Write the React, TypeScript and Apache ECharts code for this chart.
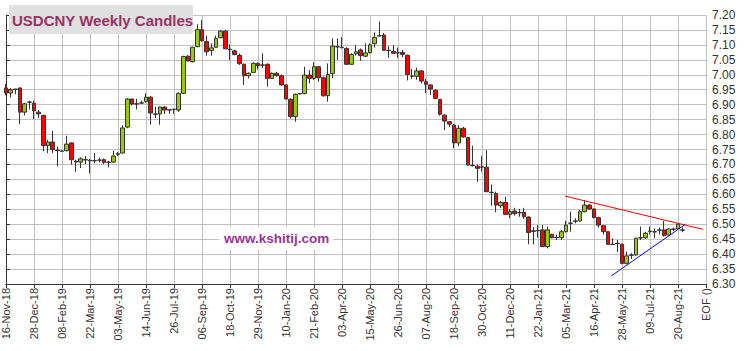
import React, { useEffect, useRef } from 'react';
import * as echarts from 'echarts';

const tickLabels = [
  '16-Nov-18', '28-Dec-18', '08-Feb-19', '22-Mar-19', '03-May-19', '14-Jun-19', '26-Jul-19',
  '06-Sep-19', '18-Oct-19', '29-Nov-19', '10-Jan-20', '21-Feb-20', '03-Apr-20', '15-May-20',
  '26-Jun-20', '07-Aug-20', '18-Sep-20', '30-Oct-20', '11-Dec-20', '22-Jan-21', '05-Mar-21',
  '16-Apr-21', '28-May-21', '09-Jul-21', '20-Aug-21', 'EOF ()',
];

const opens = [
  6.956, 6.939, 6.952, 6.956, 6.875, 6.909, 6.905, 6.875, 6.864, 6.763,
  6.775, 6.748, 6.745, 6.746, 6.772, 6.711, 6.708, 6.716, 6.714, 6.713,
  6.714, 6.716, 6.708, 6.708, 6.734, 6.738, 6.825, 6.919, 6.903, 6.905,
  6.911, 6.925, 6.869, 6.869, 6.892, 6.883, 6.884, 6.882, 6.938, 7.062,
  7.044, 7.094, 7.151, 7.111, 7.081, 7.092, 7.124, 7.146, 7.085, 7.080,
  7.065, 7.035, 6.997, 7.008, 7.038, 7.033, 7.035, 6.988, 7.005, 6.997,
  6.966, 6.918, 6.860, 6.937, 6.937, 6.999, 6.988, 7.027, 6.990, 6.930,
  7.004, 7.094, 7.092, 7.088, 7.035, 7.070, 7.083, 7.062, 7.074, 7.104,
  7.130, 7.133, 7.082, 7.078, 7.074, 7.075, 7.065, 6.996, 6.995, 7.013,
  6.977, 6.966, 6.948, 6.918, 6.865, 6.843, 6.832, 6.772, 6.821, 6.790,
  6.697, 6.694, 6.692, 6.691, 6.607, 6.603, 6.562, 6.573, 6.533, 6.544,
  6.539, 6.540, 6.524, 6.478, 6.479, 6.481, 6.425, 6.466, 6.456, 6.455,
  6.475, 6.503, 6.511, 6.511, 6.542, 6.564, 6.551, 6.522, 6.495, 6.475,
  6.433, 6.436, 6.433, 6.369, 6.397, 6.397, 6.455, 6.455, 6.477, 6.475,
  6.481, 6.481, 6.464, 6.484, 6.484, 6.481,
];

const closes = [
  6.939, 6.950, 6.951, 6.875, 6.903, 6.908, 6.880, 6.869, 6.763, 6.775,
  6.750, 6.746, 6.744, 6.768, 6.716, 6.708, 6.719, 6.715, 6.712, 6.712,
  6.715, 6.707, 6.707, 6.728, 6.736, 6.822, 6.919, 6.902, 6.902, 6.906,
  6.925, 6.872, 6.868, 6.892, 6.882, 6.882, 6.885, 6.938, 7.061, 7.046,
  7.092, 7.151, 7.114, 7.077, 7.090, 7.122, 7.146, 7.087, 7.084, 7.068,
  7.037, 6.997, 7.005, 7.038, 7.030, 7.032, 6.988, 7.005, 6.997, 6.966,
  6.919, 6.860, 6.935, 6.936, 6.999, 6.988, 7.027, 6.990, 6.930, 7.001,
  7.096, 7.093, 7.091, 7.035, 7.068, 7.077, 7.064, 7.073, 7.100, 7.125,
  7.131, 7.082, 7.081, 7.072, 7.073, 7.068, 7.001, 6.995, 7.013, 6.979,
  6.968, 6.952, 6.921, 6.868, 6.845, 6.835, 6.772, 6.821, 6.792, 6.698,
  6.696, 6.687, 6.691, 6.609, 6.606, 6.564, 6.573, 6.533, 6.542, 6.536,
  6.538, 6.525, 6.472, 6.476, 6.478, 6.425, 6.481, 6.455, 6.455, 6.475,
  6.497, 6.504, 6.510, 6.542, 6.564, 6.551, 6.522, 6.497, 6.475, 6.433,
  6.432, 6.435, 6.369, 6.394, 6.396, 6.453, 6.454, 6.470, 6.476, 6.474,
  6.480, 6.462, 6.484, 6.483, 6.500, 6.480,
];

const lows = [
  6.931, 6.924, 6.935, 6.835, 6.864, 6.884, 6.852, 6.855, 6.744, 6.738,
  6.738, 6.694, 6.742, 6.744, 6.699, 6.675, 6.688, 6.701, 6.670, 6.704,
  6.707, 6.701, 6.690, 6.705, 6.728, 6.736, 6.821, 6.897, 6.884, 6.902,
  6.907, 6.833, 6.855, 6.833, 6.869, 6.869, 6.869, 6.875, 6.936, 7.044,
  7.041, 7.092, 7.111, 7.064, 7.064, 7.091, 7.122, 7.086, 7.049, 7.065,
  7.033, 6.966, 6.988, 7.006, 7.018, 7.022, 6.960, 6.986, 6.994, 6.964,
  6.918, 6.854, 6.843, 6.934, 6.935, 6.971, 6.983, 6.977, 6.926, 6.910,
  6.988, 7.050, 7.088, 7.033, 7.033, 7.064, 7.047, 7.059, 7.071, 7.091,
  7.128, 7.080, 7.057, 7.070, 7.057, 7.059, 6.981, 6.985, 6.983, 6.971,
  6.938, 6.932, 6.919, 6.863, 6.815, 6.826, 6.754, 6.761, 6.790, 6.696,
  6.693, 6.642, 6.676, 6.607, 6.562, 6.540, 6.555, 6.531, 6.520, 6.529,
  6.525, 6.518, 6.433, 6.432, 6.455, 6.425, 6.419, 6.453, 6.447, 6.447,
  6.473, 6.475, 6.503, 6.509, 6.540, 6.548, 6.520, 6.488, 6.466, 6.431,
  6.431, 6.408, 6.366, 6.366, 6.384, 6.395, 6.447, 6.451, 6.466, 6.453,
  6.466, 6.459, 6.464, 6.477, 6.481, 6.473,
];

const highs = [
  6.969, 6.956, 6.953, 6.958, 6.906, 6.913, 6.913, 6.882, 6.867, 6.782,
  6.813, 6.760, 6.747, 6.796, 6.774, 6.716, 6.724, 6.728, 6.719, 6.738,
  6.723, 6.720, 6.712, 6.746, 6.742, 6.831, 6.922, 6.920, 6.920, 6.913,
  6.938, 6.929, 6.893, 6.893, 6.894, 6.884, 6.885, 6.941, 7.064, 7.066,
  7.094, 7.169, 7.183, 7.131, 7.105, 7.131, 7.150, 7.151, 7.102, 7.084,
  7.071, 7.038, 7.008, 7.042, 7.042, 7.072, 7.038, 7.008, 7.010, 7.001,
  6.968, 6.921, 6.937, 6.939, 7.027, 7.016, 7.042, 7.030, 6.994, 7.038,
  7.122, 7.122, 7.126, 7.092, 7.072, 7.100, 7.088, 7.105, 7.105, 7.142,
  7.178, 7.139, 7.096, 7.100, 7.091, 7.083, 7.068, 7.019, 7.024, 7.016,
  6.986, 6.968, 6.952, 6.919, 6.868, 6.845, 6.835, 6.832, 6.826, 6.792,
  6.763, 6.700, 6.729, 6.748, 6.633, 6.609, 6.578, 6.592, 6.551, 6.555,
  6.551, 6.555, 6.526, 6.490, 6.497, 6.497, 6.492, 6.468, 6.466, 6.481,
  6.511, 6.542, 6.520, 6.548, 6.581, 6.567, 6.553, 6.525, 6.497, 6.477,
  6.453, 6.447, 6.435, 6.408, 6.403, 6.455, 6.492, 6.475, 6.492, 6.486,
  6.489, 6.511, 6.486, 6.489, 6.503, 6.489,
];

// trend lines: [week index, price]
const resistanceLine = [[119.8, 6.594], [149.3, 6.483]];
const supportLine = [[129.7, 6.327], [145.6, 6.500]];

const FONT = 'Liberation Sans, Arial, sans-serif';

export default function App() {
  const ref = useRef<HTMLDivElement>(null);
  useEffect(() => {
    const chart = echarts.init(ref.current!, null, { renderer: 'svg' });
    const nWeeks = (tickLabels.length - 1) * 6 + 1;
    const categories = Array.from({ length: nWeeks }, (_, i) =>
      i % 6 === 0 ? tickLabels[i / 6] : 'w' + i
    );
    const candleData = opens.map((o, i) => [o, closes[i], lows[i], highs[i]]);

    chart.setOption({
      animation: false,
      backgroundColor: '#ffffff',
      grid: { left: 6, right: 39, top: 15, bottom: 67, containLabel: false },
      xAxis: [
        {
          type: 'category',
          data: categories,
          boundaryGap: false,
          axisLine: { show: true, lineStyle: { color: '#333', width: 1 } },
          axisTick: { show: true, interval: 5, length: 4, lineStyle: { color: '#333' } },
          splitLine: { show: true, interval: 5, lineStyle: { color: '#c0c0c0', width: 1 } },
          axisLabel: {
            interval: 5,
            rotate: 90,
            fontSize: 11,
            color: '#333',
            fontFamily: FONT,
            margin: 4,
          },
        },
        { type: 'value', min: 0, max: nWeeks - 1, show: false },
      ],
      yAxis: {
        type: 'value',
        position: 'right',
        min: 6.3,
        max: 7.2,
        interval: 0.05,
        axisLine: { show: true, lineStyle: { color: '#333', width: 1 } },
        axisTick: { show: true, length: 4, lineStyle: { color: '#333' } },
        splitLine: { show: true, lineStyle: { color: '#c0c0c0', width: 1 } },
        axisLabel: {
          fontSize: 12,
          color: '#333',
          fontFamily: FONT,
          margin: 6,
          formatter: (v: number) => v.toFixed(2),
        },
      },
      series: [
        {
          type: 'candlestick',
          data: candleData,
          barWidth: 4,
          clip: false,
          itemStyle: {
            color: '#99cc00',
            color0: '#ff0000',
            borderColor: '#333333',
            borderColor0: '#333333',
            borderWidth: 1,
          },
        },
        {
          type: 'line',
          xAxisIndex: 1,
          data: resistanceLine,
          symbol: 'none',
          lineStyle: { color: '#ff0000', width: 1 },
          z: 5,
        },
        {
          type: 'line',
          xAxisIndex: 1,
          data: supportLine,
          symbol: 'none',
          lineStyle: { color: '#0000ff', width: 1 },
          z: 5,
        },
      ],
      graphic: [
        {
          type: 'rect',
          shape: { x: 9, y: 5, width: 184, height: 29 },
          style: { fill: '#e0e0e0' },
          z: 10,
        },
        {
          type: 'text',
          x: 12,
          y: 20,
          style: {
            text: 'USDCNY Weekly Candles',
            fill: '#993366',
            font: 'bold 15px ' + FONT,
            verticalAlign: 'middle',
          },
          z: 11,
        },
        {
          type: 'rect',
          shape: { x: 219, y: 227, width: 114, height: 23 },
          style: { fill: '#ffffff' },
          z: 10,
        },
        {
          type: 'text',
          x: 224,
          y: 238.5,
          style: {
            text: 'www.kshitij.com',
            fill: '#993399',
            font: 'bold 13.5px ' + FONT,
            verticalAlign: 'middle',
          },
          z: 11,
        },
      ],
    });
    return () => chart.dispose();
  }, []);
  return (
    <div
      ref={ref}
      style={{ position: 'absolute', left: 0, top: 0, width: 745, height: 351 }}
    />
  );
}
